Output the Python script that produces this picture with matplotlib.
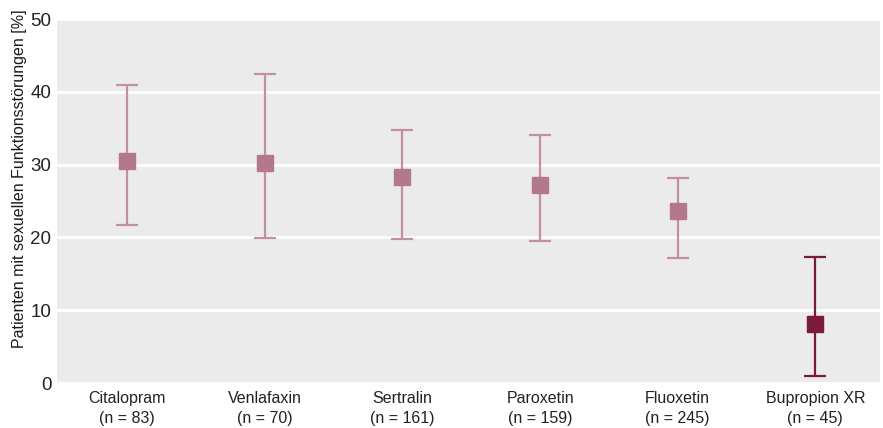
import matplotlib
matplotlib.use("Agg")
import matplotlib.pyplot as plt

plt.rcParams['font.family'] = ['Liberation Sans', 'DejaVu Sans']

drugs = ["Citalopram", "Venlafaxin", "Sertralin", "Paroxetin", "Fluoxetin", "Bupropion XR"]
n_pat = [83, 70, 161, 159, 245, 45]
mean = [30.5, 30.2, 28.3, 27.2, 23.6, 8.1]
upper = [40.9, 42.4, 34.75, 34.1, 28.2, 17.3]
lower = [21.7, 19.9, 19.8, 19.5, 17.2, 1.0]

light = "#b3788a"
light_bar = "#c2909f"
dark = "#7b1a3a"

fig = plt.figure(figsize=(8.83, 4.28), dpi=100)
ax = fig.add_axes([57/883, 1-383/428, (880-57)/883, (383-19)/428])
ax.set_facecolor("#ebebeb")

for i, d in enumerate(drugs):
    c = dark if i == len(drugs) - 1 else light
    cb = dark if i == len(drugs) - 1 else light_bar
    ax.errorbar(i, mean[i], yerr=[[mean[i] - lower[i]], [upper[i] - mean[i]]],
                fmt='s', color=c, ecolor=cb, elinewidth=1.6, capsize=8, capthick=1.6,
                markersize=12, zorder=3)

ax.set_ylim(0, 50)
ax.set_xlim(-0.51, 5.47)
ax.set_yticks([0, 10, 20, 30, 40, 50])
ax.yaxis.grid(True, color="white", linewidth=2)
ax.set_axisbelow(True)
ax.set_xticks(range(len(drugs)))
ax.set_xticklabels([f"{d}\n(n = {n})" for d, n in zip(drugs, n_pat)],
                   fontsize=11.5, color="#222222", linespacing=1.35)
ax.tick_params(axis='y', length=0, labelsize=13.5, colors="#222222", pad=4)
ax.tick_params(axis='x', length=0, pad=6)
for s in ax.spines.values():
    s.set_visible(False)
ax.set_ylabel("Patienten mit sexuellen Funktionsstörungen [%]", fontsize=11.5, color="#1a1a1a")
ax.yaxis.set_label_coords(-0.036, 0.56)

fig.savefig("out.png", dpi=100)
